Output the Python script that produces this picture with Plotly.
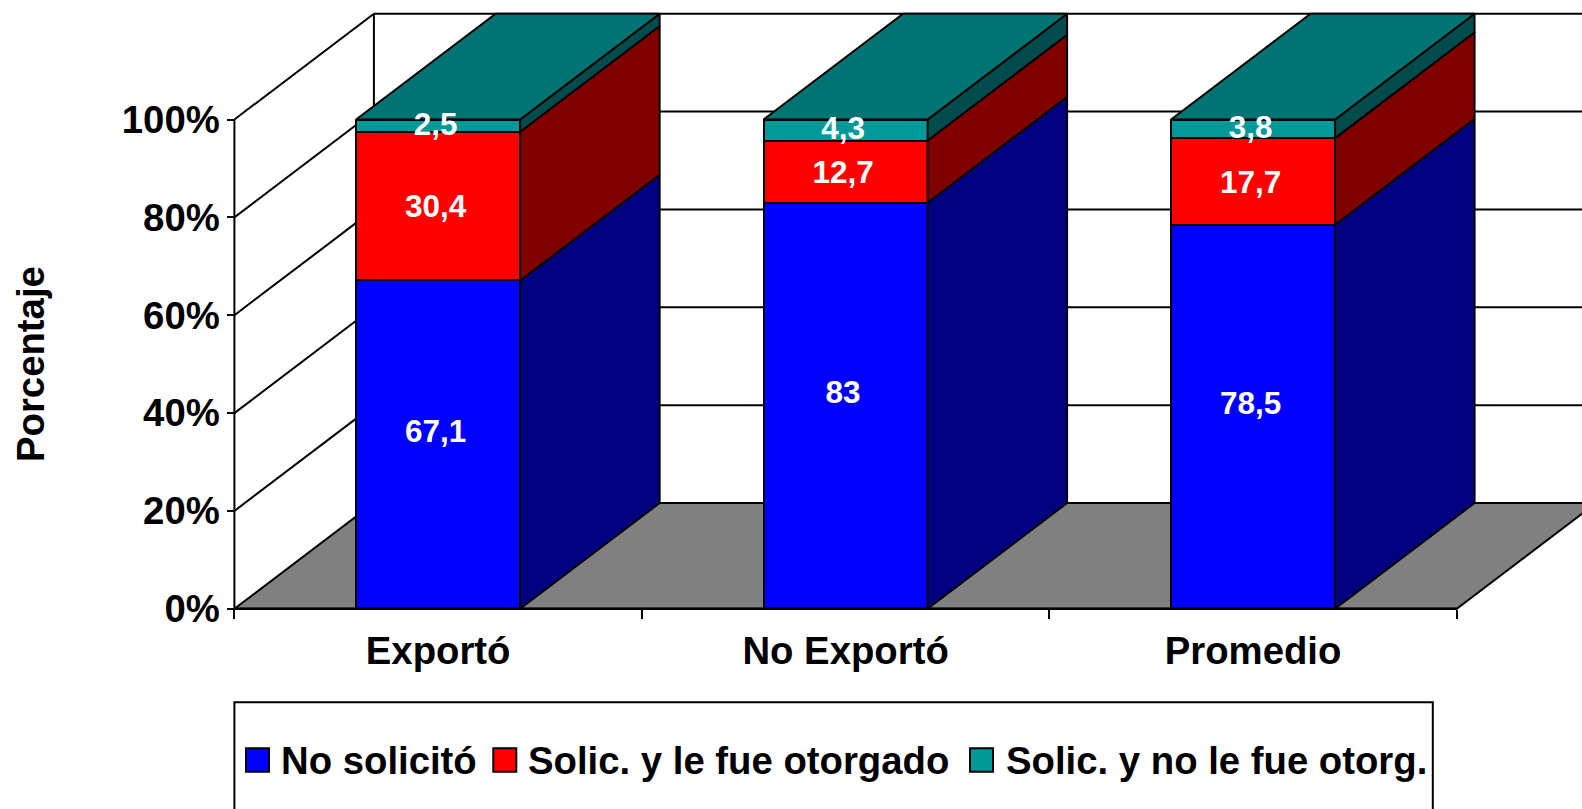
import plotly.graph_objects as go

categories = ["Exportó", "No Exportó", "Promedio"]
no_solicito = [67.1, 83.0, 78.5]
otorgado = [30.4, 12.7, 17.7]
no_otorgado = [2.5, 4.3, 3.8]
labels_no_solicito = ["67,1", "83", "78,5"]
labels_otorgado = ["30,4", "12,7", "17,7"]
labels_no_otorgado = ["2,5", "4,3", "3,8"]
y_ticks = [0, 20, 40, 60, 80, 100]
y_tick_labels = ["0%", "20%", "40%", "60%", "80%", "100%"]

W, H = 1582, 809
L, R, T, B = 234.4, 1456.8, 119.5, 608.8
CAT_PX = (R - L) / 3
PCT_PX = (B - T) / 100
DX = 139.5 / CAT_PX      # depth of the 3-D box, in category units
DY = 105.8 / PCT_PX      # depth of the 3-D box, in percent units
BAR_W = 0.4025
LBL_X = -2.5 / CAT_PX    # Excel 3-D label offsets
LBL_UP = [2.1, -0.7, -0.3]

FONT = "Liberation Sans"
BLACK = "#000000"
TXT = dict(family=FONT, size=38.3, color=BLACK, weight=700)


def fx(x):
    return x / W


def fy(y):
    return 1 - y / H


def poly(xs, ys, fill, width=2, z=0):
    return go.Scatter(
        x=xs + xs[:1], y=ys + ys[:1], mode="lines", fill="toself", fillcolor=fill,
        line=dict(color=BLACK, width=width), hoverinfo="skip", showlegend=False, zorder=z,
    )


def line(xs, ys, width=2, z=0):
    return go.Scatter(
        x=xs, y=ys, mode="lines", line=dict(color=BLACK, width=width), hoverinfo="skip",
        showlegend=False, zorder=z,
    )


fig = go.Figure()

# back walls and gridlines
fig.add_trace(line([DX, DX], [DY, 100 + DY]))
for v in y_ticks[1:]:
    fig.add_trace(line([0, DX], [v, v + DY]))
    fig.add_trace(line([DX, 3 + DX], [v + DY, v + DY]))

# floor
fig.add_trace(poly([0, 3, 3 + DX, DX], [0, 0, DY, DY], "#808080"))

# front faces of the bars
x_pos = [i + 0.5 for i in range(len(categories))]
series = [
    ("No solicitó", no_solicito, "#0000FF", "#000080"),
    ("Solic. y le fue otorgado", otorgado, "#FF0000", "#800000"),
    ("Solic. y no le fue otorg.", no_otorgado, "#009999", "#004C4C"),
]
for name, vals, front, _ in series:
    fig.add_trace(go.Bar(
        x=x_pos, y=vals, width=BAR_W, name=name, marker=dict(color=front, line=dict(color=BLACK, width=2)),
        hoverinfo="skip", showlegend=False, zorder=1,
    ))

# side and top faces derived from the values
for i, xc in enumerate(x_pos):
    xl, xr = xc - BAR_W / 2, xc + BAR_W / 2
    base = 0
    for name, vals, front, side in series:
        t = base + vals[i]
        fig.add_trace(poly([xr, xr + DX, xr + DX, xr], [base, base + DY, t + DY, t], side, z=2))
        base = t
    fig.add_trace(poly([xl, xr, xr + DX, xl + DX], [base, base, base + DY, base + DY], "#007373", z=2))

# the two axis lines (the axes span the whole page so the 3-D box is not clipped)
fig.add_trace(line([0, 0], [0, 100], width=2, z=3))
fig.add_trace(line([0, 3], [0, 0], width=2.5, z=3))

# data labels
base = [0, 0, 0]
for (name, vals, _, _), txt, up in zip(
    series, [labels_no_solicito, labels_otorgado, labels_no_otorgado], LBL_UP
):
    fig.add_trace(go.Scatter(
        x=[x + LBL_X for x in x_pos], y=[b + v / 2 + up for b, v in zip(base, vals)], text=txt, mode="text",
        textposition="middle center", textfont=dict(family=FONT, size=31.5, color="#FFFFFF", weight=700),
        hoverinfo="skip", showlegend=False, zorder=4,
    ))
    base = [b + v for b, v in zip(base, vals)]

# legend: box, swatches, text
shapes = [dict(type="rect", xref="paper", yref="paper", x0=fx(234.4), x1=fx(1432.8), y0=fy(840), y1=fy(702.3),
               line=dict(color=BLACK, width=2), fillcolor="#FFFFFF")]
annots = []
for (name, _, front, _), sx, tx in zip(series, [246, 493.3, 970], [279, 526, 1004]):
    shapes.append(dict(type="rect", xref="paper", yref="paper", x0=fx(sx), x1=fx(sx + 23), y0=fy(771.7), y1=fy(748.3),
                       line=dict(color=BLACK, width=2), fillcolor=front))
    annots.append(dict(xref="paper", yref="paper", x=fx(tx), y=fy(760.5), text=name, showarrow=False,
                       xanchor="left", yanchor="middle", font=TXT))

# y axis title
annots.append(dict(xref="paper", yref="paper", x=fx(31), y=fy(364), text="Porcentaje", textangle=-90, showarrow=False,
                   xanchor="center", yanchor="middle", font=TXT))

fig.update_layout(
    width=W, height=H, margin=dict(l=0, r=0, t=0, b=0, pad=0, autoexpand=False),
    paper_bgcolor="#FFFFFF", plot_bgcolor="#FFFFFF", barmode="stack", showlegend=False,
    shapes=shapes, annotations=annots,
    xaxis=dict(
        range=[-L / CAT_PX, 3 + (W - R) / CAT_PX], tickvals=x_pos, ticktext=categories, ticks="",
        showgrid=False, zeroline=False, showline=False, anchor="free", position=fy(B),
        tickfont=TXT, ticklabelstandoff=16,
        minor=dict(tickvals=[0, 1, 2, 3], ticks="outside", ticklen=9, tickwidth=2, tickcolor=BLACK, showgrid=False),
    ),
    yaxis=dict(
        range=[-(H - B) / PCT_PX, 100 + T / PCT_PX], tickvals=y_ticks, ticktext=y_tick_labels,
        ticks="outside", ticklen=7, tickwidth=2, tickcolor=BLACK,
        showgrid=False, zeroline=False, showline=False, anchor="free", position=fx(L),
        tickfont=TXT, ticklabelstandoff=0,
    ),
)

fig.write_html(
    "out.html",
    config=dict(displayModeBar=False),
    post_script="document.body.style.margin='0';document.body.style.overflow='hidden';",
)
